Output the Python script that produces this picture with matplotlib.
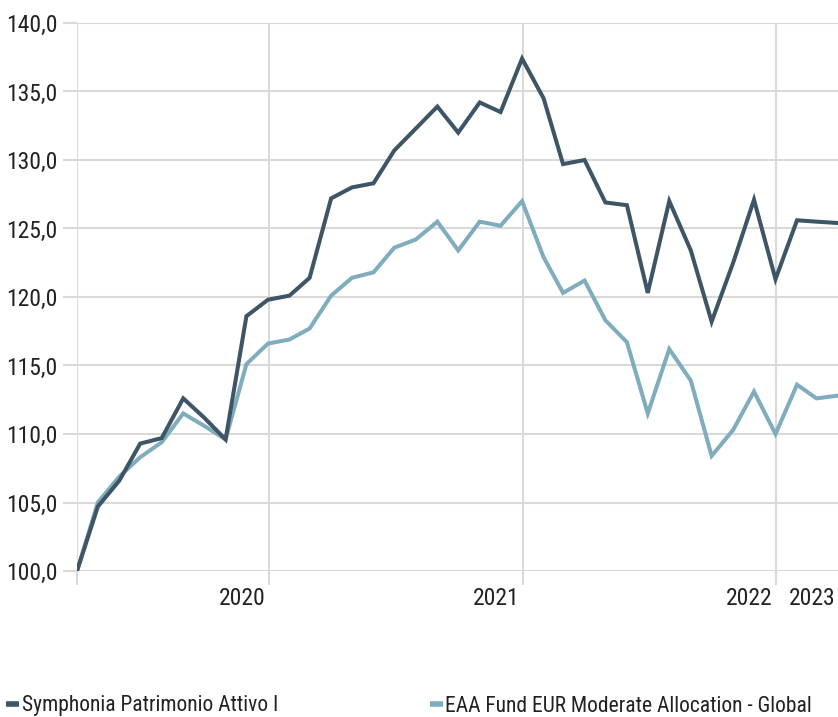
import numpy as np
import pandas as pd
import matplotlib
matplotlib.use('Agg')
import matplotlib.pyplot as plt
from matplotlib.ticker import FuncFormatter
from matplotlib.transforms import blended_transform_factory

plt.rcParams['font.family'] = ['Roboto Condensed', 'Liberation Sans Narrow', 'DejaVu Sans']

# Monthly index values, growth of 100
dates = pd.date_range('2019-03-31', periods=37, freq='ME')
fund_name = 'Symphonia Patrimonio Attivo I'
fund_values = [100.0, 104.7, 106.6, 109.3, 109.7, 112.6, 111.2, 109.6, 118.6, 119.8,
               120.1, 121.4, 127.2, 128.0, 128.3, 130.7, 132.3, 133.9, 132.0, 134.2,
               133.5, 137.4, 134.5, 129.7, 130.0, 126.9, 126.7, 120.3, 127.0, 123.4,
               118.2, 122.5, 127.1, 121.3, 125.6, 125.5, 125.4]
cat_name = 'EAA Fund EUR Moderate Allocation - Global'
cat_values = [100.0, 105.0, 106.9, 108.3, 109.4, 111.5, 110.6, 109.6, 115.1, 116.6,
              116.9, 117.7, 120.1, 121.4, 121.8, 123.6, 124.2, 125.5, 123.4, 125.5,
              125.2, 127.0, 122.9, 120.3, 121.2, 118.3, 116.7, 111.5, 116.2, 113.9,
              108.4, 110.3, 113.1, 110.0, 113.6, 112.6, 112.8]
year_ticks = ['2020-01-01', '2021-01-01', '2022-01-01']
year_labels = ['2020', '2021', '2022', '2023']
y_ticks = [100, 105, 110, 115, 120, 125, 130, 135, 140]

dark = '#3e5566'
light = '#80adbd'
grid_col = '#d9d9d9'
text_col = '#222222'

fig = plt.figure(figsize=(8.38, 7.17), dpi=100)
W, H = 838, 717
ax = fig.add_axes([77 / W, (H - 571) / H, 1 - 77 / W, (571 - 23) / H])

ax.plot(dates, fund_values, color=dark, linewidth=2.9, solid_joinstyle='miter', zorder=3)
ax.plot(dates, cat_values, color=light, linewidth=2.9, solid_joinstyle='miter', zorder=2)

ax.set_xlim(dates[0], dates[-1])
ax.set_ylim(100, 140)
ax.set_yticks(y_ticks)
ax.yaxis.set_major_formatter(FuncFormatter(lambda v, p: f'{v:.1f}'.replace('.', ',')))

xt = [dates[0]] + [pd.Timestamp(d) for d in year_ticks]
ax.set_xticks(xt)
ax.set_xticklabels([''] * len(xt))

for s in ax.spines.values():
    s.set_visible(False)
ax.grid(True, color=grid_col, linewidth=1.5, zorder=0)
ax.tick_params(axis='both', color=grid_col, width=1.5, length=10, labelsize=17,
               labelcolor=text_col, pad=4)

# year labels sit just left of their gridline
trans = blended_transform_factory(ax.transData, ax.transAxes)
for d, lab in zip(year_ticks, year_labels[:3]):
    ax.text(pd.Timestamp(d) - pd.Timedelta(days=5), -0.05, lab, transform=trans,
            ha='right', va='center', fontsize=17, color=text_col)
ax.text(0.997, -0.05, year_labels[3], transform=ax.transAxes, ha='right', va='center',
        fontsize=17, color=text_col)

# legend entries at the bottom
for name, col, x0 in [(fund_name, dark, 0.0), (cat_name, light, 0.505)]:
    h = plt.Line2D([], [], color=col, linewidth=4, solid_capstyle='butt')
    fig.legend(handles=[h], labels=[name], loc='center left', bbox_to_anchor=(x0, 11 / H),
               frameon=False, fontsize=15.5, handlelength=0.6, handletextpad=0.12,
               borderaxespad=0, borderpad=0.3, labelcolor=text_col)

fig.savefig('out.png', dpi=100)
